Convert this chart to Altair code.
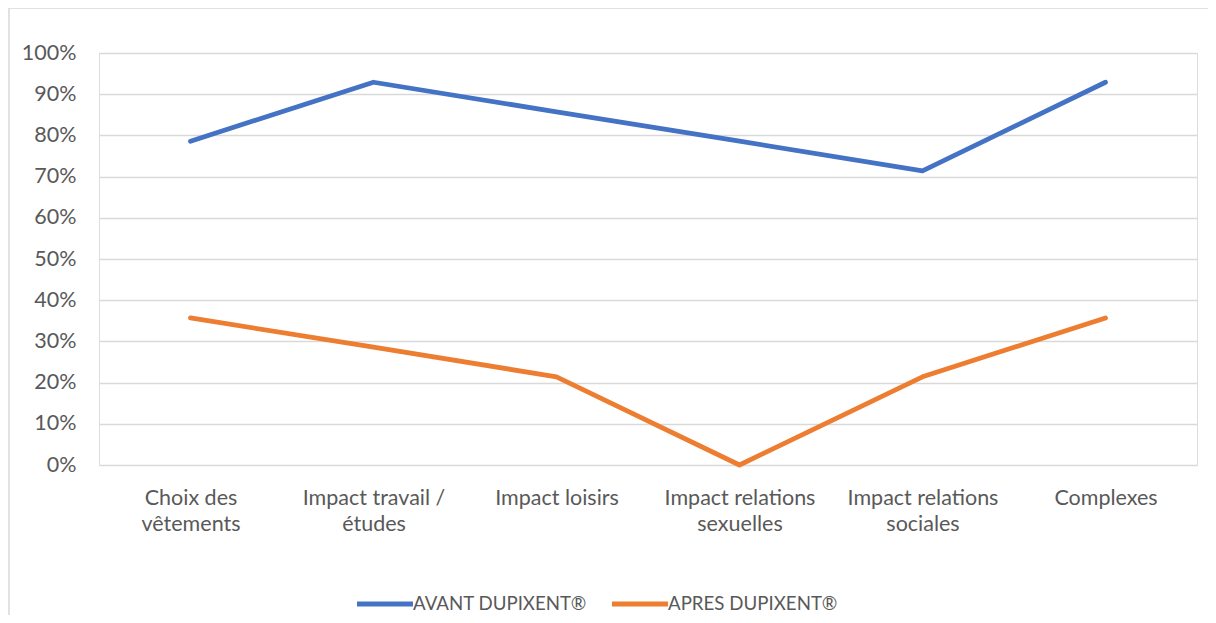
import altair as alt
import pandas as pd

categories = [
    "Choix des\nvêtements",
    "Impact travail /\nétudes",
    "Impact loisirs",
    "Impact relations\nsexuelles",
    "Impact relations\nsociales",
    "Complexes",
]
series_names = ["AVANT DUPIXENT®", "APRES DUPIXENT®"]
avant = [0.786, 0.929, 0.857, 0.786, 0.714, 0.929]
apres = [0.357, 0.286, 0.214, 0.0, 0.214, 0.357]
y_ticks = [0, 0.1, 0.2, 0.3, 0.4, 0.5, 0.6, 0.7, 0.8, 0.9, 1.0]

rows = []
for c, a, b in zip(categories, avant, apres):
    rows.append({"cat": c, "serie": series_names[0], "val": a})
    rows.append({"cat": c, "serie": series_names[1], "val": b})
df = pd.DataFrame(rows)

FONT = "Lato"
TXT = "#595959"
GRID = "#d9d9d9"
FS = 21.5

frame = alt.Chart(pd.DataFrame({"a": [0]})).mark_rect(
    fill=None, stroke=GRID, strokeWidth=1.5, clip=False
).encode(
    x=alt.value(-90), x2=alt.value(1140), y=alt.value(-45), y2=alt.value(620)
)

lines = alt.Chart(df).mark_line(strokeWidth=4.8, strokeCap="round", strokeJoin="round").encode(
    x=alt.X("cat:N", sort=categories,
            scale=alt.Scale(type="point", padding=0.5),
            axis=alt.Axis(title=None, labelExpr="split(datum.label, '\\n')",
                          labelAngle=0, labelFontSize=FS, labelFont=FONT, labelColor=TXT,
                          labelBaseline="top", labelLineHeight=26, labelPadding=22,
                          ticks=False, domain=False, grid=False)),
    y=alt.Y("val:Q", scale=alt.Scale(domain=[0, 1], nice=False),
            axis=alt.Axis(title=None, format=".0%", values=y_ticks,
                          labelFontSize=FS, labelFont=FONT, labelColor=TXT,
                          labelPadding=23, ticks=False, domain=False,
                          grid=True, gridColor=GRID, gridWidth=1.3)),
    color=alt.Color("serie:N", sort=series_names,
                    scale=alt.Scale(domain=series_names, range=["#4472C4", "#ED7D31"]),
                    legend=alt.Legend(title=None, orient="none", legendX=274, legendY=539,
                                      direction="horizontal", symbolType="M-3,0H3",
                                      symbolSize=348, symbolStrokeWidth=5,
                                      labelFontSize=18.7, labelFont=FONT, labelColor=TXT,
                                      labelLimit=400, labelOffset=16, columnPadding=15)),
)

chart = alt.layer(frame, lines).properties(
    width=1098, height=412,
    autosize=alt.AutoSizeParams(type="none"),
    padding={"left": 91, "top": 45, "right": 11, "bottom": 150},
).configure_view(stroke="transparent", strokeWidth=0).configure(background="white")

chart.save("out.html", embed_options={"renderer": "svg", "actions": False})
